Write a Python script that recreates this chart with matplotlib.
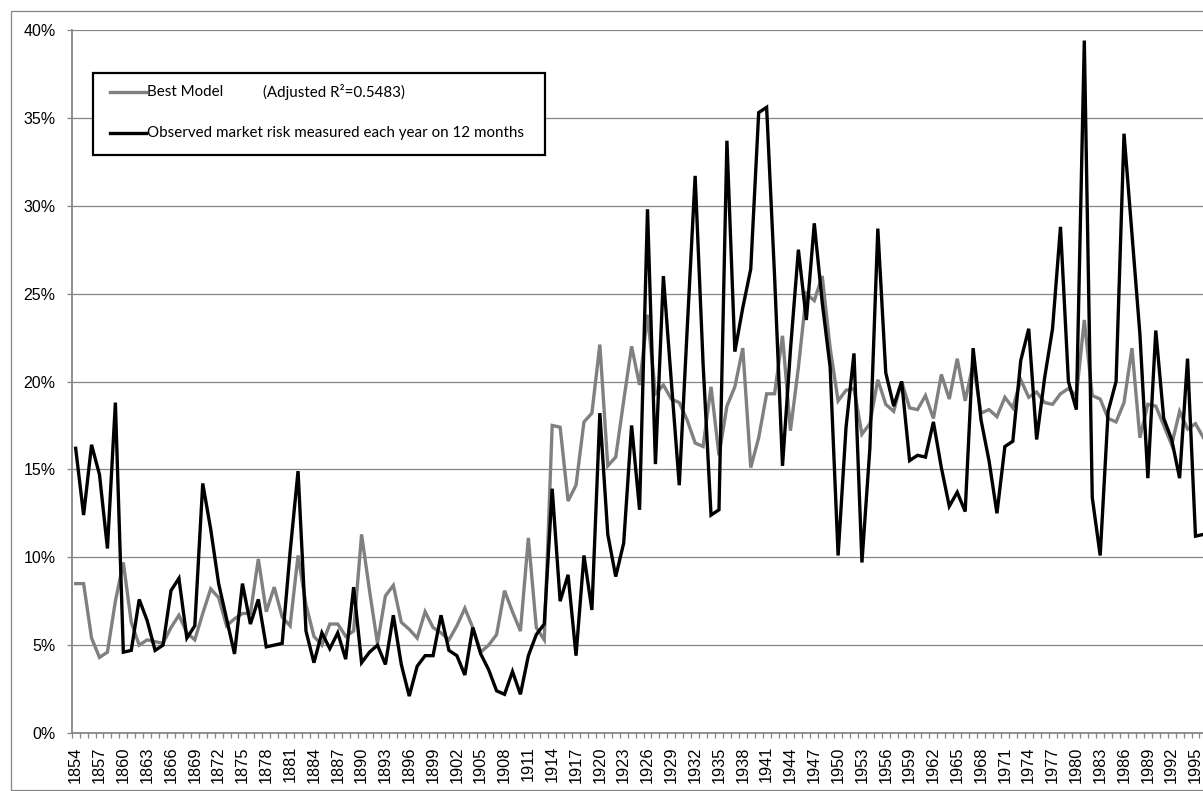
import matplotlib
matplotlib.use("Agg")
import matplotlib.pyplot as plt
from matplotlib.lines import Line2D
from matplotlib.patches import Rectangle
from matplotlib.ticker import FixedLocator, FuncFormatter
import numpy as np

# yearly values, %
years = list(range(1854, 1997))

observed = [
    16.2, 12.4, 16.4, 14.7, 10.5, 18.8, 4.6, 4.7, 7.6, 6.4,      # 1854-1863
    4.7, 5.0, 8.1, 8.8, 5.4, 6.1, 14.2, 11.6, 8.5, 6.5,          # 1864-1873
    4.5, 8.5, 6.2, 7.6, 4.9, 5.0, 5.1, 10.3, 14.9, 5.8,          # 1874-1883
    4.0, 5.7, 4.8, 5.7, 4.2, 8.3, 4.0, 4.6, 5.0, 3.9,            # 1884-1893
    6.7, 3.9, 2.1, 3.8, 4.4, 4.4, 6.7, 4.7, 4.4, 3.3,            # 1894-1903
    6.0, 4.5, 3.6, 2.4, 2.2, 3.5, 2.2, 4.4, 5.6, 6.2,            # 1904-1913
    13.9, 7.5, 9.0, 4.4, 10.1, 7.0, 18.2, 11.3, 8.9, 10.8,       # 1914-1923
    17.5, 12.7, 29.8, 15.3, 26.0, 20.0, 14.1, 23.0, 31.7, 21.0,  # 1924-1933
    12.4, 12.7, 33.7, 21.7, 24.2, 26.4, 35.3, 35.6, 26.0, 15.2,  # 1934-1943
    21.8, 27.5, 23.5, 29.0, 24.5, 20.8, 10.1, 17.4, 21.6, 9.7,   # 1944-1953
    16.2, 28.7, 20.5, 18.6, 20.0, 15.5, 15.8, 15.7, 17.7, 15.1,  # 1954-1963
    12.9, 13.7, 12.6, 21.9, 17.8, 15.5, 12.5, 16.3, 16.6, 21.2,  # 1964-1973
    23.0, 16.7, 20.2, 23.0, 28.8, 20.0, 18.4, 39.4, 13.4, 10.1,  # 1974-1983
    18.3, 20.0, 34.1, 28.4, 22.7, 14.5, 22.9, 17.9, 16.7, 14.5,  # 1984-1993
    21.3, 11.2, 11.3,                                            # 1994-1996
]

best_model = [
    8.5, 8.5, 5.4, 4.3, 4.6, 7.5, 9.7, 6.3, 5.0, 5.3,            # 1854-1863
    5.2, 5.1, 6.0, 6.7, 5.7, 5.3, 6.8, 8.2, 7.7, 6.1,            # 1864-1873
    6.5, 6.8, 6.8, 9.9, 6.9, 8.3, 6.6, 6.1, 10.1, 7.3,           # 1874-1883
    5.5, 5.0, 6.2, 6.2, 5.5, 5.8, 11.3, 8.1, 5.1, 7.8,           # 1884-1893
    8.4, 6.3, 5.9, 5.4, 6.9, 6.0, 5.7, 5.3, 6.1, 7.1,            # 1894-1903
    6.0, 4.6, 5.0, 5.6, 8.1, 6.9, 5.8, 11.1, 6.0, 5.3,           # 1904-1913
    17.5, 17.4, 13.2, 14.1, 17.7, 18.2, 22.1, 15.2, 15.7, 18.9,  # 1914-1923
    22.0, 19.8, 23.8, 19.3, 19.8, 19.0, 18.8, 17.8, 16.5, 16.3,  # 1924-1933
    19.7, 15.8, 18.6, 19.7, 21.9, 15.1, 16.8, 19.3, 19.3, 22.6,  # 1934-1943
    17.2, 20.8, 25.0, 24.6, 26.0, 21.9, 18.9, 19.5, 19.6, 17.0,  # 1944-1953
    17.6, 20.1, 18.7, 18.3, 20.0, 18.5, 18.4, 19.2, 17.9, 20.4,  # 1954-1963
    19.0, 21.3, 18.9, 21.0, 18.2, 18.4, 18.0, 19.1, 18.5, 20.1,  # 1964-1973
    19.1, 19.4, 18.8, 18.7, 19.3, 19.6, 19.2, 23.5, 19.2, 19.0,  # 1974-1983
    17.9, 17.7, 18.8, 21.9, 16.8, 18.7, 18.6, 17.5, 16.4, 18.3,  # 1984-1993
    17.3, 17.6, 16.8,                                            # 1994-1996
]

label_years = list(range(1854, 1996, 3))
model_label = "Best Model"
model_note = "(Adjusted R\u00b2=0.5483)"
observed_label = "Observed market risk measured each year on 12 months"

W, H = 1203, 791
GRID = "#868686"

plt.rcParams["font.family"] = ["Liberation Sans", "DejaVu Sans"]

fig = plt.figure(figsize=(W / 100, H / 100), dpi=100)

# plot area in pixels: left 71.7, top 30, bottom 733, one category = 7.942 px
px_left, px_top, px_bottom = 71.7, 30.0, 733.0
cat_w = 7.942
px_right = px_left + len(years) * cat_w
ax = fig.add_axes([px_left / W, 1 - px_bottom / H,
                   (px_right - px_left) / W, (px_bottom - px_top) / H])

ax.plot(years, best_model, color="#808080", lw=2.4, solid_joinstyle="miter", zorder=3)
ax.plot(years, observed, color="black", lw=2.4, solid_joinstyle="miter", zorder=4)

ax.set_xlim(years[0] - 0.5, years[-1] + 0.5)
ax.set_ylim(0, 40)

ax.yaxis.set_major_locator(FixedLocator(np.arange(0, 41, 5)))
ax.yaxis.set_major_formatter(FuncFormatter(lambda v, p: f"{v:.0f}%"))
ax.grid(axis="y", color=GRID, lw=0.9)
ax.set_axisbelow(True)

ax.xaxis.set_major_locator(FixedLocator(label_years))
ax.set_xticklabels([str(y) for y in label_years], rotation=90)
ax.xaxis.set_minor_locator(FixedLocator(np.arange(years[0] - 0.5, years[-1] + 1, 1)))

ax.tick_params(axis="x", which="major", length=0, pad=9.5, labelsize=11.8)
ax.tick_params(axis="x", which="minor", length=3.5, width=0.9, color=GRID, direction="out")
ax.tick_params(axis="y", which="major", length=3.6, width=0.9, color=GRID,
               direction="out", pad=8, labelsize=11.5)

for s in ("top", "right"):
    ax.spines[s].set_visible(False)
for s in ("left", "bottom"):
    ax.spines[s].set_color(GRID)
    ax.spines[s].set_linewidth(1.3)

# outer chart border
fig.add_artist(Rectangle((10.5 / W, 1 - 789.5 / H), 1.1, (789.5 - 10.5) / H,
                         transform=fig.transFigure, fill=False, edgecolor=GRID, lw=0.9))

# legend box, drawn by hand to match the reference placement
def fx(x):
    return x / W

def fy(y):
    return 1 - y / H

fig.add_artist(Rectangle((fx(93), fy(155)), fx(545) - fx(93), fy(73) - fy(155),
                         transform=fig.transFigure, facecolor="white",
                         edgecolor="black", lw=1.6, zorder=10))
fig.add_artist(Line2D([fx(110), fx(146)], [fy(92), fy(92)], color="#808080", lw=2.4,
                      transform=fig.transFigure, zorder=11))
fig.add_artist(Line2D([fx(110), fx(146)], [fy(133), fy(133)], color="black", lw=2.4,
                      transform=fig.transFigure, zorder=11))
leg_font = dict(fontsize=10.9, va="center", ha="left", zorder=12,
                family=["Lato", "DejaVu Sans"])
fig.text(fx(147), fy(92), model_label, **leg_font)
fig.text(fx(263), fy(92), model_note, **leg_font)
fig.text(fx(147), fy(133), observed_label, **leg_font)

fig.savefig("out.png", dpi=100)
